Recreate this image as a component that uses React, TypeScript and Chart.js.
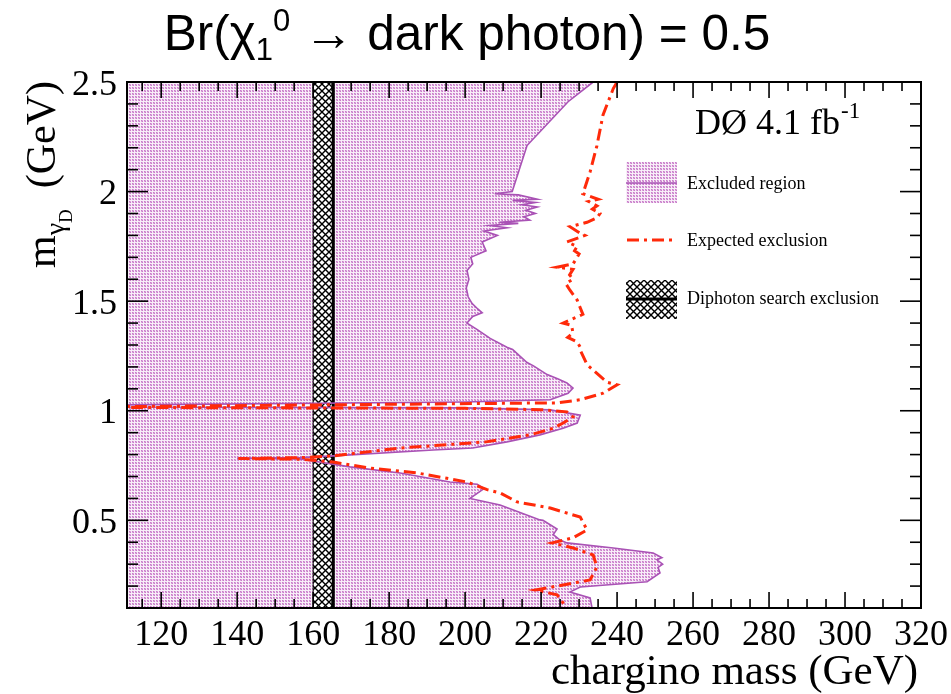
import { useEffect, useRef } from "react";
import { Chart, registerables } from "chart.js";

Chart.register(...registerables);

// Axis ranges
const X_MIN = 111;
const X_MAX = 320;
const Y_MIN = 0.1;
const Y_MAX = 2.5;

// Tick values and labels
const xMajorTicks = [120, 140, 160, 180, 200, 220, 240, 260, 280, 300, 320];
const yMajorTicks = [0.5, 1, 1.5, 2, 2.5];
const yTickLabels = ["0.5", "1", "1.5", "2", "2.5"];

// Diphoton search: excluded chargino mass band (GeV)
const diphotonBand = [160, 165.3];

// Observed exclusion contour: [chargino mass (GeV), m_gammaD (GeV)]
const observedContour: [number, number][] = [
  [233.7, 2.5], [227.1, 2.41], [216.3, 2.21], [212.4, 2.0], [207.8, 1.99],
  [214.0, 1.985], [219.0, 1.965], [212.5, 1.96], [218.5, 1.95], [215.0, 1.94],
  [219.0, 1.93], [216.0, 1.915], [218.5, 1.9], [215.5, 1.885], [217.0, 1.87],
  [209.0, 1.86], [214.0, 1.855], [206.5, 1.845], [211.0, 1.835], [205.0, 1.82],
  [208.5, 1.8], [204.5, 1.77], [205.5, 1.73], [201.5, 1.7], [202.0, 1.67],
  [200.5, 1.64], [201.0, 1.6], [200.3, 1.56], [200.8, 1.52], [201.8, 1.49],
  [203.0, 1.47], [204.5, 1.447], [202.0, 1.43], [200.5, 1.4], [203.2, 1.37],
  [206.6, 1.33], [211.0, 1.29], [212.5, 1.28], [215.0, 1.24], [216.3, 1.22],
  [218.0, 1.205], [221.6, 1.165], [224.5, 1.145], [226.8, 1.127], [228.4, 1.104],
  [227.1, 1.08], [222.4, 1.05], [200.0, 1.04], [111.0, 1.027], [111.0, 1.017],
  [200.0, 1.013], [222.4, 1.004], [230.3, 0.98], [229.5, 0.944], [225.8, 0.92],
  [219.7, 0.89], [211.0, 0.858], [202.0, 0.83], [191.6, 0.821], [165.3, 0.794],
  [156.6, 0.786], [140.0, 0.783], [156.6, 0.78], [169.7, 0.744], [182.9, 0.716],
  [196.0, 0.675], [203.2, 0.665], [205.0, 0.645], [201.3, 0.6], [209.2, 0.57],
  [219.7, 0.502], [220.5, 0.5], [224.2, 0.46], [223.2, 0.435], [225.0, 0.41],
  [226.8, 0.397], [239.0, 0.374], [249.5, 0.351], [251.8, 0.33], [250.5, 0.32],
  [252.0, 0.3], [250.8, 0.285], [251.3, 0.26], [247.9, 0.22], [230.3, 0.196],
  [227.6, 0.173], [232.9, 0.146], [233.4, 0.1],
];

// Expected exclusion contour: [chargino mass (GeV), m_gammaD (GeV)]
const expectedContour: [number, number][] = [
  [240.0, 2.5], [239.0, 2.47], [236.3, 2.35], [234.7, 2.21], [232.9, 2.09],
  [231.0, 1.99], [235.0, 1.965], [232.5, 1.955], [234.7, 1.935], [233.5, 1.92],
  [235.5, 1.9], [234.7, 1.88], [232.1, 1.86], [227.6, 1.84], [230.3, 1.81],
  [231.5, 1.8], [226.8, 1.77], [229.5, 1.75], [228.8, 1.73], [230.0, 1.715],
  [229.5, 1.7], [228.4, 1.67], [224.2, 1.655], [228.4, 1.645], [227.5, 1.62],
  [228.4, 1.6], [226.5, 1.58], [227.6, 1.55], [229.5, 1.505], [230.3, 1.47],
  [231.0, 1.44], [229.0, 1.425], [225.8, 1.4], [228.0, 1.39], [228.4, 1.355],
  [227.0, 1.335], [229.5, 1.314], [230.3, 1.29], [230.3, 1.277], [232.1, 1.21],
  [234.7, 1.17], [237.4, 1.13], [240.0, 1.118], [236.3, 1.08], [230.3, 1.05],
  [224.2, 1.036], [111.0, 1.019], [111.0, 1.015], [200.0, 1.011], [220.0, 1.005],
  [226.8, 0.995], [228.4, 0.972], [225.8, 0.944], [223.2, 0.92], [217.1, 0.89],
  [205.5, 0.858], [182.9, 0.83], [165.3, 0.794], [156.6, 0.786], [140.3, 0.782],
  [156.6, 0.779], [165.3, 0.766], [174.2, 0.74], [187.4, 0.716], [200.5, 0.675],
  [205.8, 0.64], [209.2, 0.625], [213.7, 0.584], [222.4, 0.556], [230.3, 0.515],
  [232.1, 0.456], [228.4, 0.42], [222.9, 0.397], [228.4, 0.374], [233.7, 0.342],
  [234.7, 0.287], [232.9, 0.228], [225.8, 0.205], [218.4, 0.182], [224.2, 0.16],
  [226.8, 0.1],
];

const SERIF = "'Liberation Serif', 'DejaVu Serif', serif";
const SANS = "'Liberation Sans', 'DejaVu Sans', sans-serif";
const PURPLE = "#a952b5";
const RED = "#ff2a0a";
const RED_DASH = [12, 5, 3, 5];

// dotted fill used for the excluded region
function makeDotPattern(ctx: CanvasRenderingContext2D): CanvasPattern {
  const c = document.createElement("canvas");
  c.width = 3;
  c.height = 3;
  const g = c.getContext("2d")!;
  g.fillStyle = "#f8eef8";
  g.fillRect(0, 0, 3, 3);
  g.fillStyle = "#dba8dc";
  g.fillRect(0, 0, 2, 2);
  g.fillStyle = "#c87ac9";
  g.fillRect(0, 0, 1, 1);
  g.fillRect(1, 1, 1, 1);
  return ctx.createPattern(c, "repeat")!;
}

// black cross-hatch used for the diphoton band
function makeCrossPattern(ctx: CanvasRenderingContext2D): CanvasPattern {
  const n = 7;
  const c = document.createElement("canvas");
  c.width = n;
  c.height = n;
  const g = c.getContext("2d")!;
  g.fillStyle = "#ffffff";
  g.fillRect(0, 0, n, n);
  g.strokeStyle = "#000000";
  g.lineWidth = 1.4;
  g.beginPath();
  g.moveTo(-1, -1);
  g.lineTo(n + 1, n + 1);
  g.moveTo(n + 1, -1);
  g.lineTo(-1, n + 1);
  g.stroke();
  return ctx.createPattern(c, "repeat")!;
}

const toPoints = (pairs: [number, number][]) => pairs.map(([x, y]) => ({ x, y }));

function line(ctx: CanvasRenderingContext2D, x1: number, y1: number, x2: number, y2: number) {
  ctx.beginPath();
  ctx.moveTo(x1, y1);
  ctx.lineTo(x2, y2);
  ctx.stroke();
}

function makeDecor(dots: CanvasPattern, cross: CanvasPattern) {
  return {
    id: "decor",
    afterDatasetsDraw(chart: Chart) {
      const { ctx, chartArea: a } = chart;
      const xs = chart.scales.x;
      const ys = chart.scales.y;
      ctx.save();

      // inward ticks on all four sides
      ctx.strokeStyle = "#000";
      ctx.lineWidth = 1.6;
      for (let v = 115; v <= X_MAX; v += 5) {
        const px = xs.getPixelForValue(v);
        const len = v % 20 === 0 ? 16 : 9;
        line(ctx, px, a.bottom, px, a.bottom - len);
        line(ctx, px, a.top, px, a.top + len);
      }
      for (let i = 2; i <= 25; i++) {
        const py = ys.getPixelForValue(i / 10);
        const len = i % 5 === 0 ? 21 : 11;
        line(ctx, a.left, py, a.left + len, py);
        line(ctx, a.right, py, a.right - len, py);
      }

      // frame
      ctx.lineWidth = 2;
      ctx.strokeRect(a.left, a.top, a.right - a.left, a.bottom - a.top);

      // tick labels
      ctx.fillStyle = "#000";
      ctx.font = `36px ${SERIF}`;
      ctx.textBaseline = "alphabetic";
      ctx.textAlign = "center";
      xMajorTicks.forEach((v) => {
        ctx.fillText(String(v), xs.getPixelForValue(v), 645);
      });
      ctx.textAlign = "right";
      yMajorTicks.forEach((v, i) => {
        ctx.fillText(yTickLabels[i], 117, ys.getPixelForValue(v) + 12.5);
      });

      // x-axis title
      ctx.font = `43px ${SERIF}`;
      ctx.textAlign = "right";
      ctx.fillText("chargino mass (GeV)", 918, 684);

      // y-axis title, rotated
      ctx.save();
      ctx.translate(55, 268);
      ctx.rotate(-Math.PI / 2);
      ctx.textAlign = "left";
      let u = 0;
      ctx.font = `42px ${SERIF}`;
      ctx.fillText("m", u, 0);
      u += ctx.measureText("m").width;
      ctx.font = `28px ${SERIF}`;
      ctx.fillText("γ", u, 9);
      u += ctx.measureText("γ").width;
      ctx.font = `19px ${SERIF}`;
      ctx.fillText("D", u, 17);
      u += ctx.measureText("D").width;
      ctx.font = `42px ${SERIF}`;
      ctx.fillText("  (GeV)", u, 0);
      ctx.restore();

      // title
      const tMain = 49.5;
      const tSmall = 31;
      ctx.textAlign = "left";
      const parts: [string, number, number][] = [
        ["Br(χ", tMain, 0],
        ["1", tSmall, 10],
        ["0", tSmall, -19],
        [" → dark photon) = 0.5", tMain, 0],
      ];
      let total = 0;
      parts.forEach(([s, f]) => {
        ctx.font = `${f}px ${SANS}`;
        total += ctx.measureText(s).width;
      });
      let tx = 467 - total / 2;
      parts.forEach(([s, f, dy]) => {
        ctx.font = `${f}px ${SANS}`;
        ctx.fillText(s, tx, 50 + dy);
        tx += ctx.measureText(s).width;
      });

      // experiment label
      ctx.font = `36px ${SERIF}`;
      ctx.fillText("DØ 4.1 fb", 695, 134);
      const w = ctx.measureText("DØ 4.1 fb").width;
      ctx.font = `23px ${SERIF}`;
      ctx.fillText("-1", 695 + w + 1, 118);

      // legend
      const lx = 626;
      const lw = 51;
      ctx.fillStyle = dots;
      ctx.fillRect(lx, 162, lw, 41);
      ctx.strokeStyle = PURPLE;
      ctx.lineWidth = 1.6;
      line(ctx, lx, 183, lx + lw, 183);

      ctx.strokeStyle = RED;
      ctx.lineWidth = 3;
      ctx.setLineDash(RED_DASH);
      line(ctx, lx + 1, 240, lx + lw, 240);
      ctx.setLineDash([]);

      ctx.fillStyle = cross;
      ctx.fillRect(lx, 280, lw, 39);
      ctx.strokeStyle = "#000";
      ctx.lineWidth = 3;
      line(ctx, lx, 299, lx + lw, 299);

      ctx.fillStyle = "#000";
      ctx.font = `18px ${SERIF}`;
      ctx.textBaseline = "middle";
      ctx.fillText("Excluded region", 687, 184);
      ctx.fillText("Expected exclusion", 687, 241);
      ctx.fillText("Diphoton search exclusion", 687, 299);

      ctx.restore();
    },
  };
}

export default function App() {
  const ref = useRef<HTMLCanvasElement>(null);

  useEffect(() => {
    const canvas = ref.current!;
    const ctx = canvas.getContext("2d")!;
    const dots = makeDotPattern(ctx);
    const cross = makeCrossPattern(ctx);

    const [bandLo, bandHi] = diphotonBand;
    const excludedArea = [
      ...observedContour,
      [X_MIN, Y_MIN],
      [X_MIN, Y_MAX],
    ] as [number, number][];
    const bandArea: [number, number][] = [
      [bandLo, Y_MIN],
      [bandLo, Y_MAX],
      [bandHi, Y_MAX],
      [bandHi, Y_MIN],
    ];

    const chart = new Chart(canvas, {
      type: "scatter",
      data: {
        datasets: [
          {
            label: "Expected exclusion",
            data: toPoints(expectedContour),
            showLine: true,
            borderColor: RED,
            borderWidth: 3,
            borderDash: RED_DASH,
            pointRadius: 0,
            fill: false,
            order: 0,
          },
          {
            label: "Excluded region boundary",
            data: toPoints(observedContour),
            showLine: true,
            borderColor: PURPLE,
            borderWidth: 1.6,
            pointRadius: 0,
            fill: false,
            order: 1,
          },
          {
            label: "Diphoton search limit",
            data: toPoints([
              [bandHi, Y_MIN],
              [bandHi, Y_MAX],
            ]),
            showLine: true,
            borderColor: "#000",
            borderWidth: 3,
            pointRadius: 0,
            fill: false,
            order: 2,
          },
          {
            label: "Diphoton search exclusion",
            data: toPoints(bandArea),
            showLine: true,
            borderColor: "#000",
            borderWidth: 1,
            backgroundColor: cross,
            pointRadius: 0,
            fill: "shape",
            order: 3,
          },
          {
            label: "Excluded region",
            data: toPoints(excludedArea),
            showLine: true,
            borderWidth: 0,
            borderColor: "rgba(0,0,0,0)",
            backgroundColor: dots,
            pointRadius: 0,
            fill: "shape",
            order: 4,
          },
        ],
      },
      options: {
        animation: false,
        responsive: false,
        devicePixelRatio: 1,
        layout: { padding: { left: 127, right: 30, top: 82, bottom: 86 } },
        elements: { line: { tension: 0 } },
        scales: {
          x: { type: "linear", min: X_MIN, max: X_MAX, display: false },
          y: { type: "linear", min: Y_MIN, max: Y_MAX, display: false },
        },
        plugins: {
          legend: { display: false },
          tooltip: { enabled: false },
        },
      },
      plugins: [makeDecor(dots, cross)],
    });

    return () => chart.destroy();
  }, []);

  return (
    <div style={{ position: "fixed", left: 0, top: 0, width: 951, height: 694, background: "#fff" }}>
      <canvas ref={ref} width={951} height={694} style={{ display: "block" }} />
    </div>
  );
}
